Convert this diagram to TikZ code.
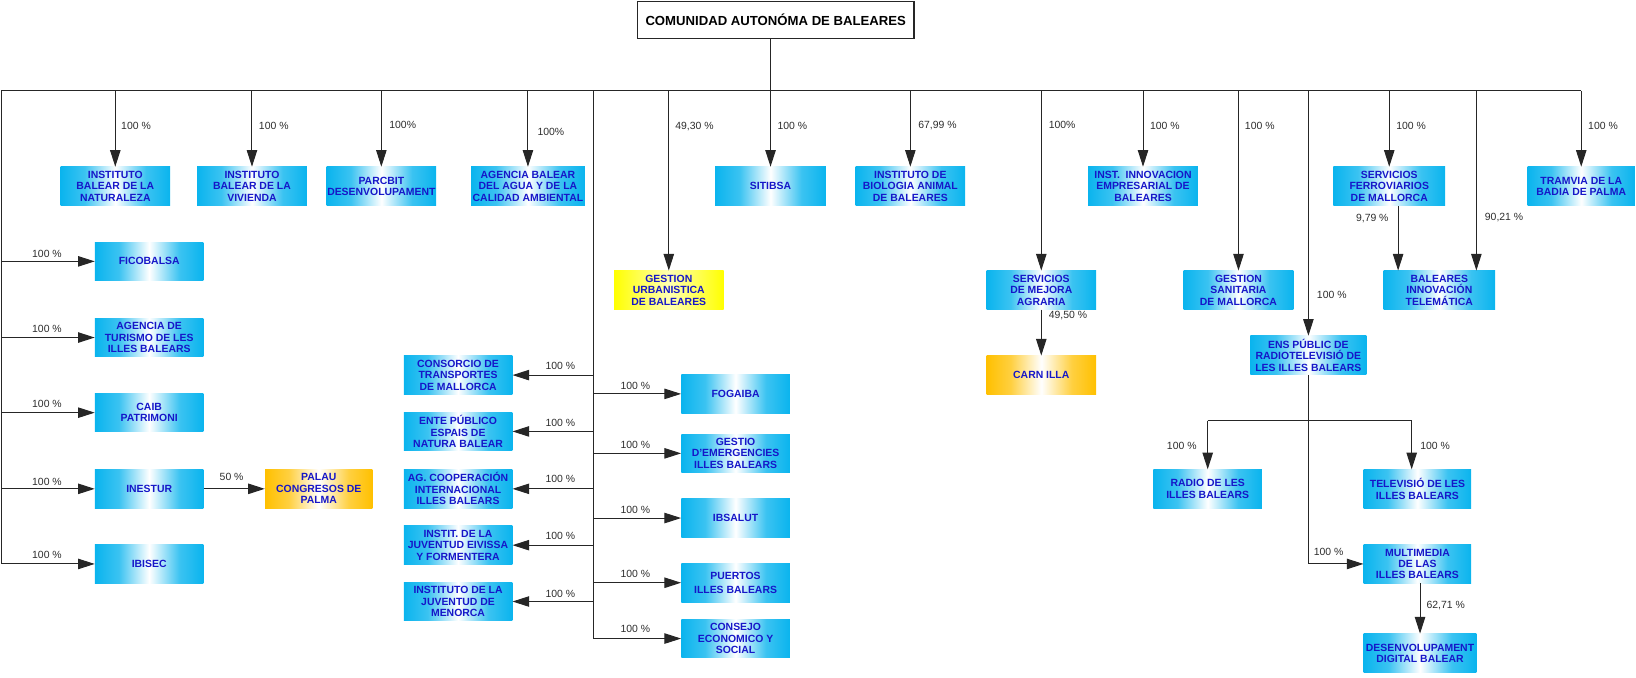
\documentclass[tikz,border=0pt]{standalone}
\usepackage{fontspec}
\setmainfont{Liberation Sans}
\usetikzlibrary{arrows.meta}
\definecolor{orgblue}{RGB}{10,180,238}
\definecolor{orgorange}{RGB}{255,192,0}
\definecolor{orgyellow}{RGB}{255,255,0}
\definecolor{orgtext}{RGB}{22,22,200}
\definecolor{pcttext}{RGB}{45,45,45}
\pgfdeclarehorizontalshading{orgbl}{100bp}{color(0bp)=(orgblue); color(25bp)=(orgblue); color(36bp)=(orgblue!80!white); color(50bp)=(white); color(64bp)=(orgblue!80!white); color(75bp)=(orgblue); color(100bp)=(orgblue)}
\pgfdeclarehorizontalshading{orgor}{100bp}{color(0bp)=(orgorange); color(25bp)=(orgorange); color(36bp)=(orgorange!75!white); color(50bp)=(white); color(64bp)=(orgorange!75!white); color(75bp)=(orgorange); color(100bp)=(orgorange)}
\pgfdeclarehorizontalshading{orgye}{100bp}{color(0bp)=(orgyellow); color(25bp)=(orgyellow); color(50bp)=(orgyellow!30!white); color(75bp)=(orgyellow); color(100bp)=(orgyellow)}

\begin{document}
\begin{tikzpicture}[x=1pt,y=-1pt]
	\tikzstyle{every node}+=[inner sep=0pt]
	\tikzstyle{ent}=[minimum width=105, minimum height=37, align=center, text=orgtext, font=\bfseries\fontsize{10}{11}\selectfont, shading=orgbl]
	\tikzstyle{entor}=[ent, shading=orgor]
	\tikzstyle{entye}=[ent, shading=orgye]
	\tikzstyle{pct}=[text=pcttext, font=\fontsize{10}{12}\selectfont]
	\tikzstyle{link}=[black!85, line width=1pt]
	\tikzstyle{arr}=[link, -{Triangle[length=16pt,width=10pt]}]
	\useasboundingbox (0,0) rectangle (1568,649);
	\node [draw=black!85, line width=1pt, fill=white, minimum width=265, minimum height=36, font=\bfseries\fontsize{12.6}{14}\selectfont] (cab) at (743.5,19) {COMUNIDAD AUTONÓMA DE BALEARES};
	\node [ent] (nat) at (110.5,178.5) {INSTITUTO\\BALEAR DE LA\\NATURALEZA};
	\node [ent] (viv) at (241.5,178.5) {INSTITUTO\\BALEAR DE LA\\VIVIENDA};
	\node [ent] (parc) at (365.5,178.5) {PARCBIT\\DESENVOLUPAMENT};
	\node [ent, minimum width=109] (agua) at (506,178.5) {AGENCIA BALEAR\\DEL AGUA Y DE LA\\CALIDAD AMBIENTAL};
	\node [ent, minimum width=106] (sitibsa) at (738.5,178.5) {SITIBSA};
	\node [ent] (bio) at (872.5,178.5) {INSTITUTO DE\\BIOLOGIA ANIMAL\\DE BALEARES};
	\node [ent] (innov) at (1095.5,178.5) {INST.\ \ INNOVACION\\EMPRESARIAL DE\\BALEARES};
	\node [ent, minimum width=107] (ferro) at (1331.5,178.5) {SERVICIOS\\FERROVIARIOS\\DE MALLORCA};
	\node [ent, minimum width=103] (tramvia) at (1515.5,178.5) {TRAMVIA DE LA\\BADIA DE PALMA};
	\node [entye] (urb) at (641,278) {GESTION\\URBANISTICA\\DE BALEARES};
	\node [ent] (mejora) at (998,278) {SERVICIOS\\DE MEJORA\\AGRARIA};
	\node [ent] (sanit) at (1187,278) {GESTION\\SANITARIA\\DE MALLORCA};
	\node [ent, minimum width=107] (telem) at (1379.5,278) {BALEARES\\INNOVACIÓN\\TELEMÁTICA};
	\node [entor] (carn) at (998,359.5) {CARN ILLA};
	\node [ent, minimum width=104] (fico) at (143,250.5) {FICOBALSA};
	\node [ent, minimum width=104] (turismo) at (143,323.5) {AGENCIA DE\\TURISMO DE LES\\ILLES BALEARS};
	\node [ent, minimum width=104] (caib) at (143,395.5) {CAIB\\PATRIMONI};
	\node [ent, minimum width=104] (inestur) at (143,468.5) {INESTUR};
	\node [ent, minimum width=104] (ibisec) at (143,540.5) {IBISEC};
	\node [entor, minimum width=103] (palau) at (305.5,468.5) {PALAU\\CONGRESOS DE\\PALMA};
	\node [ent, minimum width=104] (consorcio) at (439,359.5) {CONSORCIO DE\\TRANSPORTES\\DE MALLORCA};
	\node [ent, minimum width=104] (ente) at (439,413.5) {ENTE PÚBLICO\\ESPAIS DE\\NATURA BALEAR};
	\node [ent, minimum width=104] (coop) at (439,468.5) {AG. COOPERACIÓN\\INTERNACIONAL\\ILLES BALEARS};
	\node [ent, minimum width=104] (eivissa) at (439,522.5) {INSTIT. DE LA\\JUVENTUD EIVISSA\\Y FORMENTERA};
	\node [ent, minimum width=104] (menorca) at (439,576.5) {INSTITUTO DE LA\\JUVENTUD DE\\MENORCA};
	\node [ent, minimum width=104] (fogaiba) at (705,377.5) {FOGAIBA};
	\node [ent, minimum width=104] (emerg) at (705,434.5) {GESTIO\\D'EMERGENCIES\\ILLES BALEARS};
	\node [ent, minimum width=104] (ibsalut) at (705,496.5) {IBSALUT};
	\node [ent, minimum width=104, font=\bfseries\fontsize{10}{14}\selectfont] (puertos) at (705,558.5) {PUERTOS\\ILLES BALEARS};
	\node [ent, minimum width=104] (consejo) at (705,612) {CONSEJO\\ECONOMICO Y\\SOCIAL};
	\node [ent, minimum width=111] (ens) at (1254,340.5) {ENS PÚBLIC DE\\RADIOTELEVISIÓ DE\\LES ILLES BALEARS};
	\node [ent, minimum width=104] (radio) at (1157.5,468.5) {RADIO DE LES\\ILLES BALEARS};
	\node [ent, minimum width=103] (tele) at (1358.5,468.5) {TELEVISIÓ DE LES\\ILLES BALEARS};
	\node [ent, minimum width=103] (multi) at (1358.5,540.5) {MULTIMEDIA\\DE LAS\\ILLES BALEARS};
	\node [ent, minimum width=108] (digital) at (1361,626) {DESENVOLUPAMENT\\DIGITAL BALEAR};
	\coordinate (busl) at (1,87);
	\coordinate (mid) at (569,87);
	\draw [link] (busl) -- (busl -| tramvia);
	\draw [link] (busl) -- (busl |- ibisec);
	\draw [link] (mid) -- (mid |- consejo);
	\draw [arr] (cab.south -| sitibsa) -- (sitibsa);
	\foreach \e in {nat,viv,parc,agua,bio,innov,ferro,tramvia,urb,mejora,sanit,ens}
		\draw [arr] (busl -| \e) -- (\e);
	\draw [arr] ([xshift=35.5]telem.north |- busl) -- ([xshift=35.5]telem.north);
	\draw [arr] ([xshift=8.5]ferro.south) -- ([xshift=8.5]ferro.south |- telem.north);
	\foreach \e in {fico,turismo,caib,inestur,ibisec}
		\draw [arr] (busl |- \e) -- (\e);
	\foreach \e in {consorcio,ente,coop,eivissa,menorca,fogaiba,emerg,ibsalut,puertos,consejo}
		\draw [arr] (mid |- \e) -- (\e);
	\draw [arr] (inestur) -- (palau);
	\draw [arr] (mejora) -- (carn);
	\path (ens.south) ++(0,44) coordinate (split);
	\draw [link] (split -| radio) -- ([xshift=-5.5]tele.north |- split);
	\draw [arr] (split -| radio) -- (radio);
	\draw [arr] ([xshift=-5.5]tele.north |- split) -- ([xshift=-5.5]tele.north);
	\draw [arr] (ens.south) |- (multi);
	\draw [arr] (multi.south -| digital) -- (digital);
	\node [pct, anchor=west] (p1) at (116,121) {100 \%};
	\node [pct, anchor=west] (p2) at (248,121) {100 \%};
	\node [pct, anchor=west] (p3) at (373,120) {100\%};
	\node [pct, anchor=west] (p4) at (515,126) {100\%};
	\node [pct, anchor=west] (p5) at (647,121) {49,30 \%};
	\node [pct, anchor=west] (p6) at (745,121) {100 \%};
	\node [pct, anchor=west] (p7) at (880,120) {67,99 \%};
	\node [pct, anchor=west] (p8) at (1005,120) {100\%};
	\node [pct, anchor=west] (p9) at (1102,121) {100 \%};
	\node [pct, anchor=west] (p10) at (1193,121) {100 \%};
	\node [pct, anchor=west] (p11) at (1338,121) {100 \%};
	\node [pct, anchor=west] (p12) at (1522,121) {100 \%};
	\node [pct, anchor=west] (p13) at (1423,208) {90,21 \%};
	\node [pct, anchor=east] (p14) at (1331,209) {9,79 \%};
	\node [pct, anchor=west] (p15) at (1262,283) {100 \%};
	\node [pct, anchor=west] (p16) at (1005,302) {49,50 \%};
	\node [pct, anchor=east] (p17) at (1147,427) {100 \%};
	\node [pct, anchor=west] (p18) at (1361,427) {100 \%};
	\node [pct, anchor=west] (p19) at (1259,529) {100 \%};
	\node [pct, anchor=west] (p20) at (1367,580) {62,71 \%};
	\node [pct] (p21) at (222,457) {50 \%};
	\foreach \y/\n in {243/a,315/b,387/c,462/d,532/e}
		\node [pct] (pl\n) at (45,\y) {100 \%};
	\foreach \y/\n in {351/a,405/b,459/c,514/d,569/e}
		\node [pct] (pm\n) at (537,\y) {100 \%};
	\foreach \y/\n in {370/a,426/b,489/c,550/d,603/e}
		\node [pct] (pr\n) at (609,\y) {100 \%};
\end{tikzpicture}
\end{document}
